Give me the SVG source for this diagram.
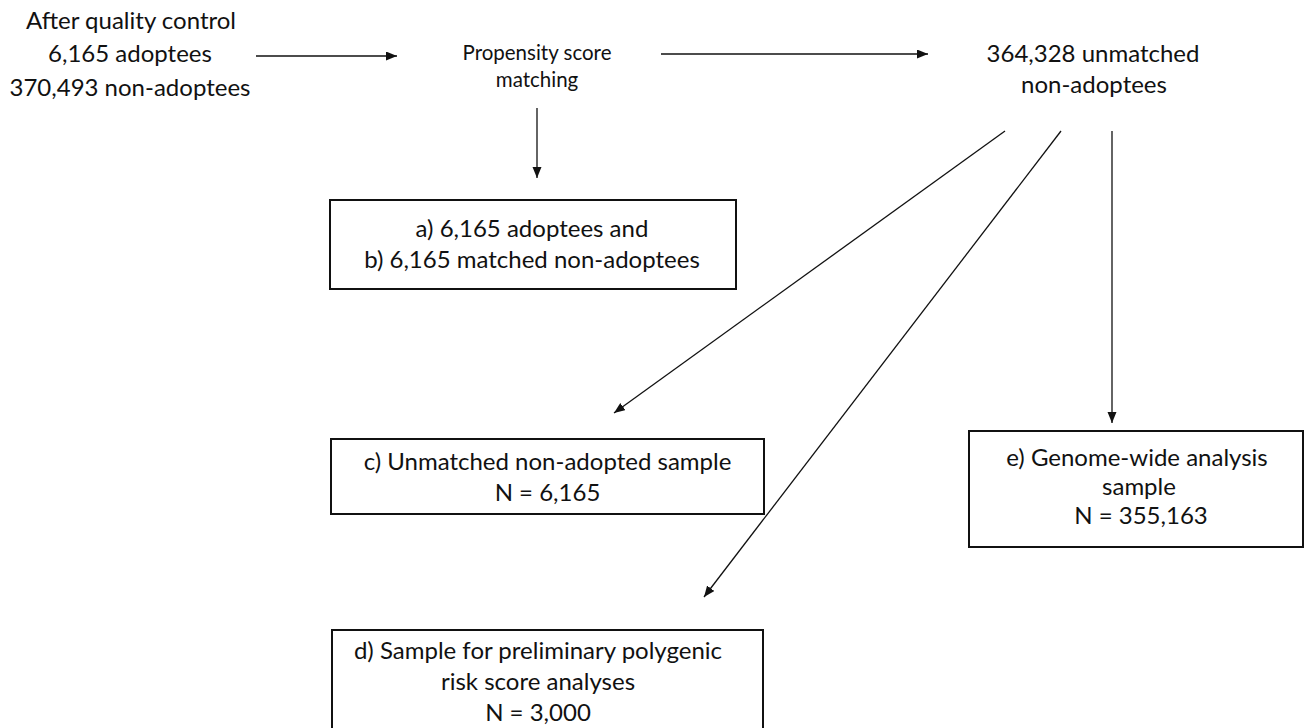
<svg xmlns="http://www.w3.org/2000/svg" width="1306" height="728" viewBox="0 0 1306 728">
<style>
text{font-family:Lato,"Open Sans","Liberation Sans",sans-serif;fill:#111;text-anchor:middle}
.t{font-size:24px}
.s{font-size:20.5px}
.box{fill:#fff;stroke:#111;stroke-width:2}
.ln{stroke:#111;stroke-width:1.3;fill:none;marker-end:url(#ah)}
</style>
<defs>
<marker id="ah" markerUnits="userSpaceOnUse" markerWidth="12" markerHeight="10" refX="11" refY="4.5" orient="auto">
<path d="M0,0 L11,4.5 L0,9 z" fill="#111"/>
</marker>
</defs>
<rect width="1306" height="728" fill="#fff"/>
<g id="connectors">
<line class="ln" x1="256" y1="56" x2="397" y2="56"/>
<line class="ln" x1="661" y1="54" x2="928" y2="54"/>
<line class="ln" x1="537" y1="108" x2="537" y2="178"/>
<line class="ln" x1="1005" y1="131" x2="614" y2="413"/>
<line class="ln" x1="1061" y1="131" x2="704" y2="597"/>
<line class="ln" x1="1112" y1="131" x2="1112" y2="423"/>
</g>
<g id="start">
<text class="t" x="131" y="29">After quality control</text>
<text class="t" x="130" y="62">6,165 adoptees</text>
<text class="t" x="130" y="96">370,493 non-adoptees</text>
</g>
<g id="psm">
<text class="s" x="537" y="60">Propensity score</text>
<text class="s" x="537" y="87">matching</text>
</g>
<g id="unmatched">
<text class="t" x="1093" y="62">364,328 unmatched</text>
<text class="t" x="1094" y="93">non-adoptees</text>
</g>
<g id="box-a">
<rect class="box" x="330" y="200" width="406" height="89"/>
<text class="t" x="532" y="237">a) 6,165 adoptees and</text>
<text class="t" x="532" y="268">b) 6,165 matched non-adoptees</text>
</g>
<g id="box-c">
<rect class="box" x="331" y="439" width="433" height="75"/>
<text class="t" x="547.5" y="470">c) Unmatched non-adopted sample</text>
<text class="t" x="547.5" y="501">N = 6,165</text>
</g>
<g id="box-d">
<rect class="box" x="332" y="630" width="431" height="110"/>
<text class="t" x="538" y="659">d) Sample for preliminary polygenic</text>
<text class="t" x="538" y="690">risk score analyses</text>
<text class="t" x="538" y="721">N = 3,000</text>
</g>
<g id="box-e">
<rect class="box" x="969" y="431" width="334" height="116"/>
<text class="t" x="1137" y="466">e) Genome-wide analysis</text>
<text class="t" x="1139" y="495">sample</text>
<text class="t" x="1141" y="524">N = 355,163</text>
</g>
</svg>
